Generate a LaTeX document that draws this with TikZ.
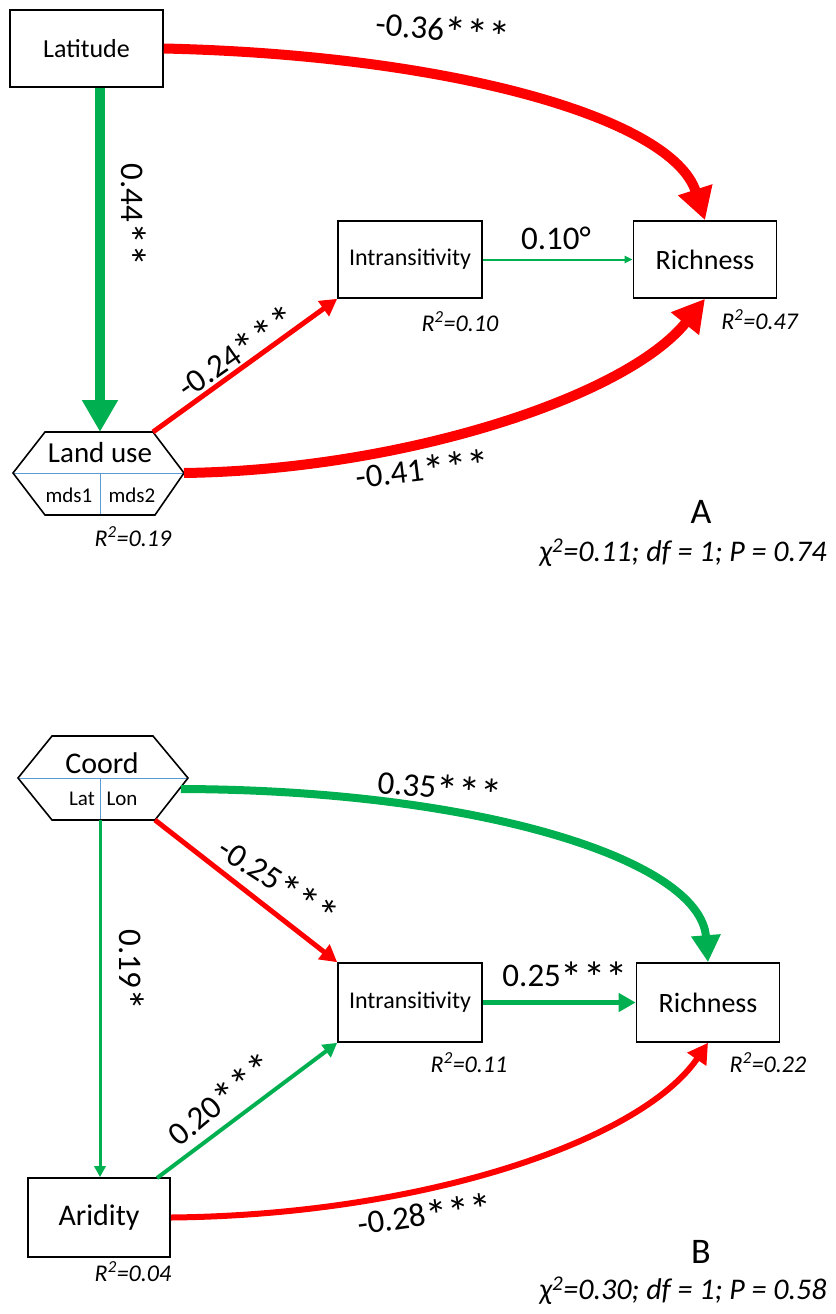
\documentclass[tikz,border=0pt]{standalone}
\usepackage{fontspec}
\usepackage{graphicx}
\setmainfont{Carlito}
\usetikzlibrary{arrows.meta}

\definecolor{posgreen}{RGB}{0,176,80}
\definecolor{negred}{RGB}{255,0,0}
\definecolor{splitblue}{RGB}{91,155,213}

\newcommand*{\rsq}[1]{\textit{R\textsuperscript{2}=#1}}
\newcommand*{\fsz}[1]{\fontsize{#1}{#1}\selectfont}
\newcommand*{\st}{\raisebox{-0.45ex}{\scalebox{1.35}{*}}}

\begin{document}
\begin{tikzpicture}
[
	x=1pt, y=-1pt,
	varbox/.style={draw,line width=1.6pt,inner sep=0pt},
	hexline/.style={line width=1.6pt,line join=miter},
	splitline/.style={splitblue,line width=0.8pt},
	coef/.style={font=\fsz{33},inner sep=1pt},
	rsqlabel/.style={font=\fsz{24},inner sep=1pt},
	bigarrow/.style={line width=10pt,-{Triangle[length=32pt,width=34pt]}},
	midarrow/.style={line width=5pt,-{Triangle[length=17pt,width=18pt]}},
	thinarrow/.style={line width=2pt,-{Triangle[length=8pt,width=7pt]}}
]

	\useasboundingbox (0,0) rectangle (835,1314);

	% ---------------- panel A ----------------
	\node[varbox,font=\fsz{26},minimum width=153pt,minimum height=77pt] at (86.5,48.5) (latitude) {Latitude};
	\node[varbox,font=\fsz{24},minimum width=144pt,minimum height=77pt] at (410,259.5) (intrA) {Intransitivity};
	\node[varbox,font=\fsz{28},minimum width=143pt,minimum height=77pt] at (705,259.5) (richA) {Richness};

	% land use hexagon
	\coordinate (lu-w) at (13,473);
	\coordinate (lu-nw) at (45,432);
	\coordinate (lu-n) at (100,432);
	\coordinate (lu-ne) at (153,432);
	\coordinate (lu-e) at (184,473);
	\coordinate (lu-se) at (155,515);
	\coordinate (lu-s) at (100,515);
	\coordinate (lu-sw) at (45,515);
	\coordinate (lu-c) at (100,473);
	\draw[splitline] (lu-w) -- (lu-e);
	\draw[splitline] (lu-c) -- (lu-s);
	\draw[hexline] (lu-w) -- (lu-nw) -- (lu-ne) -- (lu-e) -- (lu-se) -- (lu-sw) -- cycle;
	\node[font=\fsz{29}] at (100,453) (landuse) {Land use};
	\node[font=\fsz{21}] at (69,495) (mdsone) {mds1};
	\node[font=\fsz{21}] at (132,495) (mdstwo) {mds2};

	% paths
	\draw[bigarrow,negred] (latitude.east) .. controls (450,55) and (672,118) .. (richA.north);
	\draw[bigarrow,posgreen] (latitude.south -| lu-n) -- (lu-n);
	\draw[midarrow,negred] (lu-ne) -- (intrA.south west);
	\draw[thinarrow,posgreen] (intrA.east) -- (richA.west);
	\draw[bigarrow,negred] (lu-e) .. controls (400,470) and (625,398) .. (richA.south);

	\node[coef,rotate=-5] at (443,32) (lab36) {-0.36\st\st\st};
	\node[coef,rotate=-90] at (130,215) (lab44) {0.44\st\st};
	\node[coef,rotate=35] at (238,354) (lab24) {-0.24\st\st\st};
	\node[coef] at (556,238) (lab10) {0.10°};
	\node[coef,rotate=7] at (423,472) (lab41) {-0.41\st\st\st};

	\node[rsqlabel] at (460,322) (rsqintrA) {\rsq{0.10}};
	\node[rsqlabel] at (760,320) (rsqrichA) {\rsq{0.47}};
	\node[rsqlabel] at (133,537) (rsqland) {\rsq{0.19}};

	\node[font=\fsz{36}] at (701,512) (panelA) {A};
	\node[font=\fsz{30}\itshape] at (683,553) (fitA) {χ\textsuperscript{2}=0.11; df = 1; P = 0.74};

	% ---------------- panel B ----------------
	\node[varbox,font=\fsz{24},minimum width=144pt,minimum height=79pt] at (410,1002.5) (intrB) {Intransitivity};
	\node[varbox,font=\fsz{28},minimum width=143pt,minimum height=79pt] at (708,1002.5) (richB) {Richness};
	\node[varbox,font=\fsz{30},minimum width=142pt,minimum height=79pt] at (99,1217.5) (aridity) {Aridity};

	% coord hexagon
	\coordinate (co-w) at (18,778);
	\coordinate (co-nw) at (52,736);
	\coordinate (co-ne) at (153,736);
	\coordinate (co-e) at (188,778);
	\coordinate (co-se) at (155,820);
	\coordinate (co-s) at (100,820);
	\coordinate (co-sw) at (52,820);
	\coordinate (co-c) at (100,778);
	\coordinate (co-out) at (181,789);
	\draw[splitline] (co-w) -- (co-e);
	\draw[splitline] (co-c) -- (co-s);
	\draw[hexline] (co-w) -- (co-nw) -- (co-ne) -- (co-e) -- (co-se) -- (co-sw) -- cycle;
	\node[font=\fsz{30}] at (102,763) (coord) {Coord};
	\node[font=\fsz{21}] at (82,799) (lat) {Lat};
	\node[font=\fsz{21}] at (122,799) (lon) {Lon};

	% paths
	\draw[line width=8pt,posgreen,-{Triangle[length=27pt,width=28pt]}] (co-out) .. controls (480,790) and (700,860) .. (richB.north);
	\draw[midarrow,negred] (co-se) -- (intrB.north west);
	\draw[line width=3pt,posgreen,-{Triangle[length=11pt,width=11pt]}] (co-s) -- (aridity.north -| co-s);
	\draw[midarrow,posgreen] (intrB.east) -- (richB.west);
	\coordinate (ar-ne) at (157,1178);
	\draw[line width=4pt,posgreen,-{Triangle[length=14pt,width=15pt]}] (ar-ne) -- (intrB.south west);
	\draw[line width=6pt,negred,-{Triangle[length=20pt,width=22pt]}] (aridity.east) .. controls (420,1215) and (640,1142) .. (richB.south);

	\node[coef,rotate=-5] at (440,790) (lab35) {0.35\st\st\st};
	\node[coef,rotate=-33] at (277,884) (lab25) {-0.25\st\st\st};
	\node[coef,rotate=-90] at (128,970) (lab19) {0.19\st};
	\node[coef,rotate=40] at (222,1101) (lab20) {0.20\st\st\st};
	\node[coef] at (565,978) (lab25b) {0.25\st\st\st};
	\node[coef,rotate=8] at (425,1217) (lab28) {-0.28\st\st\st};

	\node[rsqlabel] at (469,1063) (rsqintrB) {\rsq{0.11}};
	\node[rsqlabel] at (768,1063) (rsqrichB) {\rsq{0.22}};
	\node[rsqlabel] at (133,1272) (rsqarid) {\rsq{0.04}};

	\node[font=\fsz{36}] at (701,1252) (panelB) {B};
	\node[font=\fsz{30}\itshape] at (683,1291) (fitB) {χ\textsuperscript{2}=0.30; df = 1; P = 0.58};

\end{tikzpicture}
\end{document}
